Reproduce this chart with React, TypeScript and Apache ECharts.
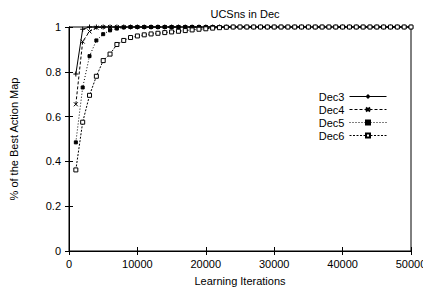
import React, { useEffect, useRef } from "react";
import * as echarts from "echarts";

const iterations = [
  1000, 2000, 3000, 4000, 5000, 6000, 7000, 8000, 9000, 10000,
  11000, 12000, 13000, 14000, 15000, 16000, 17000, 18000, 19000, 20000,
  21000, 22000, 23000, 24000, 25000, 26000, 27000, 28000, 29000, 30000,
  31000, 32000, 33000, 34000, 35000, 36000, 37000, 38000, 39000, 40000,
  41000, 42000, 43000, 44000, 45000, 46000, 47000, 48000, 49000, 50000,
];

const dec3 = [
  0.79, 0.99, 1, 1, 1, 1, 1, 1, 1, 1,
  1, 1, 1, 1, 1, 1, 1, 1, 1, 1,
  1, 1, 1, 1, 1, 1, 1, 1, 1, 1,
  1, 1, 1, 1, 1, 1, 1, 1, 1, 1,
  1, 1, 1, 1, 1, 1, 1, 1, 1, 1,
];
const dec4 = [
  0.655, 0.935, 0.98, 0.997, 1, 1, 1, 1, 1, 1,
  1, 1, 1, 1, 1, 1, 1, 1, 1, 1,
  1, 1, 1, 1, 1, 1, 1, 1, 1, 1,
  1, 1, 1, 1, 1, 1, 1, 1, 1, 1,
  1, 1, 1, 1, 1, 1, 1, 1, 1, 1,
];
const dec5 = [
  0.485, 0.73, 0.87, 0.94, 0.968, 0.985, 0.993, 0.998, 1, 1,
  1, 1, 1, 1, 1, 1, 1, 1, 1, 1,
  1, 1, 1, 1, 1, 1, 1, 1, 1, 1,
  1, 1, 1, 1, 1, 1, 1, 1, 1, 1,
  1, 1, 1, 1, 1, 1, 1, 1, 1, 1,
];
const dec6 = [
  0.362, 0.575, 0.695, 0.78, 0.85, 0.879, 0.922, 0.94, 0.953, 0.96,
  0.965, 0.969, 0.972, 0.975, 0.978, 0.981, 0.984, 0.987, 0.99, 0.992,
  0.995, 0.997, 0.999, 1, 1, 1, 1, 1, 1, 1,
  1, 1, 1, 1, 1, 1, 1, 1, 1, 1,
  1, 1, 1, 1, 1, 1, 1, 1, 1, 1,
];

const seriesNames = ["Dec3", "Dec4", "Dec5", "Dec6"];

const FONT = "'Liberation Sans', Arial, sans-serif";

export default function App() {
  const ref = useRef<HTMLDivElement>(null);
  useEffect(() => {
    if (!ref.current) return;
    const chart = echarts.init(ref.current, undefined, { renderer: "svg" });
    const pair = (vals: number[]) => iterations.map((x, i) => [x, vals[i]]);
    const plusPath = "path://M0,5L10,5M5,0L5,10";
    const crossPath = "path://M0,0L10,10M10,0L0,10";
    const styles = [
      { data: dec3, symbol: plusPath, size: 5, dash: "solid" as any, fill: "#000" },
      { data: dec4, symbol: crossPath, size: 4, dash: [3, 2], fill: "#000" },
      { data: dec5, symbol: "rect", size: 3, dash: [1, 2], fill: "#000" },
      { data: dec6, symbol: "rect", size: 4, dash: [2, 1.5], fill: "#fff" },
    ];
    chart.setOption({
      animation: false,
      title: {
        text: "UCSns in Dec",
        left: 240,
        textAlign: "center",
        top: 3,
        textStyle: { fontFamily: FONT, fontSize: 11, fontWeight: "normal", color: "#000" },
      },
      legend: {
        orient: "vertical",
        align: "right",
        right: 39,
        top: 85,
        itemWidth: 37,
        itemHeight: 5,
        itemGap: 0,
        data: seriesNames,
        lineStyle: { width: 1 },
        textStyle: {
          fontFamily: FONT,
          fontSize: 11,
          color: "#000",
          fontWeight: "normal",
          lineHeight: 13,
          padding: [0, 0, 0, 0],
        },
      },
      grid: {
        left: 69,
        right: 20,
        top: 27,
        bottom: 47,
        show: true,
        borderColor: "#000",
        borderWidth: 1,
        backgroundColor: "transparent",
      },
      xAxis: [
        {
          type: "value",
          min: 0,
          max: 50000,
          interval: 10000,
          name: "Learning Iterations",
          nameLocation: "middle",
          nameGap: 24,
          nameTextStyle: { fontFamily: FONT, fontSize: 11, color: "#000" },
          axisLine: { show: true, lineStyle: { color: "#000" } },
          axisTick: { show: true, inside: true, length: 4, lineStyle: { color: "#000" } },
          axisLabel: {
            fontFamily: FONT,
            fontSize: 11,
            color: "#000",
            margin: 7,
            formatter: (v: number) => String(v),
          },
          splitLine: { show: false },
        },
        {
          type: "value",
          position: "top",
          min: 0,
          max: 50000,
          interval: 10000,
          axisLine: { show: true, lineStyle: { color: "#000" } },
          axisTick: { show: true, inside: true, length: 4, lineStyle: { color: "#000" } },
          axisLabel: { show: false },
          splitLine: { show: false },
        },
      ],
      yAxis: [
        {
          type: "value",
          min: 0,
          max: 1,
          interval: 0.2,
          name: "% of the Best Action Map",
          nameLocation: "middle",
          nameGap: 50,
          nameTextStyle: { fontFamily: FONT, fontSize: 11, color: "#000" },
          axisLine: { show: true, lineStyle: { color: "#000" } },
          axisTick: { show: true, inside: true, length: 4, lineStyle: { color: "#000" } },
          axisLabel: {
            fontFamily: FONT,
            fontSize: 11,
            color: "#000",
            margin: 8,
            formatter: (v: number) => String(Math.round(v * 10) / 10),
          },
          splitLine: { show: false },
        },
        {
          type: "value",
          position: "right",
          min: 0,
          max: 1,
          interval: 0.2,
          axisLine: { show: true, lineStyle: { color: "#000" } },
          axisTick: { show: true, inside: true, length: 4, lineStyle: { color: "#000" } },
          axisLabel: { show: false },
          splitLine: { show: false },
        },
      ],
      series: styles.map((s, i) => ({
        name: seriesNames[i],
        type: "line",
        xAxisIndex: 0,
        yAxisIndex: 0,
        data: pair(s.data),
        symbol: s.symbol,
        symbolSize: s.size,
        showSymbol: true,
        showAllSymbol: true,
        clip: false,
        z: 2 + i,
        lineStyle: { color: "#000", width: 1, type: s.dash },
        itemStyle: { color: s.fill, borderColor: "#000", borderWidth: 1 },
      })),
    });
    return () => chart.dispose();
  }, []);
  return <div ref={ref} style={{ width: 431, height: 298, margin: -8 }} />;
}
